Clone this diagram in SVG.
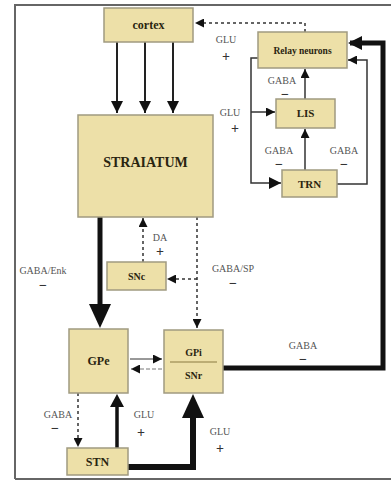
<svg xmlns="http://www.w3.org/2000/svg" width="391" height="482" viewBox="0 0 391 482">
<style>
.box{fill:#ede0a8;stroke:#a09a80;stroke-width:1.5}
.nt{font-family:"Liberation Serif",serif;font-weight:bold;fill:#2a2510;text-anchor:middle}
.lb{font-family:"Liberation Serif",serif;fill:#555;font-size:10px;text-anchor:middle}
.sg{font-family:"Liberation Serif",serif;fill:#333;font-size:14px;font-weight:bold;text-anchor:middle}
.thin{fill:none;stroke:#333;stroke-width:1.5}
.dash{fill:none;stroke:#333;stroke-width:1.5;stroke-dasharray:3,3}
</style>
<defs>
<marker id="ah" viewBox="0 0 10 10" refX="10" refY="5" markerWidth="9" markerHeight="9" markerUnits="userSpaceOnUse" orient="auto"><path d="M0,0L10,5L0,10z" fill="#111"/></marker>
<marker id="am" viewBox="0 0 10 10" refX="10" refY="5" markerWidth="14" markerHeight="12" markerUnits="userSpaceOnUse" orient="auto"><path d="M0,0L10,5L0,10z" fill="#111"/></marker>
</defs>
<rect x="0" y="0" width="391" height="482" fill="#fff"/>
<path d="M15,479V5H391" fill="none" stroke="#666" stroke-width="2"/>
<path d="M15,479H391" fill="none" stroke="#666" stroke-width="2"/>

<g id="connectors">
<line x1="117" y1="42" x2="117" y2="113" stroke="#222" stroke-width="2" marker-end="url(#am)"/>
<line x1="145" y1="42" x2="145" y2="113" stroke="#222" stroke-width="2" marker-end="url(#am)"/>
<line x1="173" y1="42" x2="173" y2="113" stroke="#222" stroke-width="2" marker-end="url(#am)"/>
<path d="M305,32V23H195" class="dash" marker-end="url(#ah)"/>
<path d="M258,58H251V183H281" class="thin" marker-end="url(#am)"/>
<path d="M251,112H275" class="thin" marker-end="url(#ah)"/>
<line x1="305" y1="99" x2="305" y2="69" class="thin" marker-end="url(#ah)"/>
<line x1="305" y1="170" x2="305" y2="129" class="thin" marker-end="url(#ah)"/>
<path d="M337,184H367V60H348" class="thin" marker-end="url(#ah)"/>
<path d="M223,368H383V43H350" fill="none" stroke="#111" stroke-width="5"/>
<path d="M348,43L362,36V50z" fill="#111"/>
<line x1="100" y1="217" x2="100" y2="306" stroke="#111" stroke-width="5"/>
<path d="M100,328L89,304H111z" fill="#111"/>
<path d="M197,217V328" class="dash" marker-end="url(#ah)"/>
<path d="M197,279H167" class="dash" marker-end="url(#ah)"/>
<path d="M143,262V218" class="dash" marker-end="url(#ah)"/>
<line x1="130" y1="359" x2="162" y2="359" stroke="#333" stroke-width="1" marker-end="url(#ah)"/>
<line x1="162" y1="369" x2="131" y2="369" stroke="#777" stroke-width="1" stroke-dasharray="4,2" marker-end="url(#ah)"/>
<path d="M78,393V447" class="dash" marker-end="url(#ah)"/>
<line x1="117" y1="448" x2="117" y2="405" stroke="#111" stroke-width="3.5"/>
<path d="M117,394L110,407H124z" fill="#111"/>
<path d="M128,467H193V415" fill="none" stroke="#111" stroke-width="6"/>
<path d="M193,394L182,418H204z" fill="#111"/>
</g>

<g id="cortex"><rect class="box" x="104" y="8" width="89" height="34"/><text class="nt" x="148.5" y="29" font-size="12">cortex</text></g>
<g id="relay"><rect class="box" x="258" y="32" width="89" height="36"/><text class="nt" x="302.5" y="54" font-size="9.5">Relay neurons</text></g>
<g id="lis"><rect class="box" x="276" y="99" width="59" height="29"/><text class="nt" x="305.5" y="117" font-size="11">LIS</text></g>
<g id="trn"><rect class="box" x="282" y="170" width="55" height="27"/><text class="nt" x="309.5" y="188" font-size="11">TRN</text></g>
<g id="striatum"><rect class="box" x="78" y="115" width="135" height="102"/><text class="nt" x="145.5" y="167" font-size="14">STRAIATUM</text></g>
<g id="snc"><rect class="box" x="107" y="262" width="59" height="28"/><text class="nt" x="136.5" y="280" font-size="10">SNc</text></g>
<g id="gpe"><rect class="box" x="69" y="329" width="59" height="64"/><text class="nt" x="98.5" y="365" font-size="12">GPe</text></g>
<g id="gpi"><rect class="box" x="164" y="330" width="59" height="63"/><line x1="170" y1="362" x2="217" y2="362" stroke="#8a7a40" stroke-width="1"/><text class="nt" x="193.5" y="356" font-size="10">GPi</text><text class="nt" x="193.5" y="379" font-size="10">SNr</text></g>
<g id="stn"><rect class="box" x="67" y="448" width="61" height="27"/><text class="nt" x="97.5" y="466" font-size="12">STN</text></g>

<g id="labels">
<text class="lb" x="226" y="43">GLU</text><text class="sg" x="226" y="61">+</text>
<text class="lb" x="230" y="116">GLU</text><text class="sg" x="235" y="133">+</text>
<text class="lb" x="282" y="84">GABA</text><text class="sg" x="285" y="99">−</text>
<text class="lb" x="279" y="154">GABA</text><text class="sg" x="279" y="169">−</text>
<text class="lb" x="344" y="154">GABA</text><text class="sg" x="344" y="169">−</text>
<text class="lb" x="160" y="241">DA</text><text class="sg" x="160" y="256">+</text>
<text class="lb" x="43" y="274">GABA/Enk</text><text class="sg" x="43" y="290">−</text>
<text class="lb" x="233" y="272">GABA/SP</text><text class="sg" x="233" y="288">−</text>
<text class="lb" x="303" y="349">GABA</text><text class="sg" x="303" y="364">−</text>
<text class="lb" x="58" y="418">GABA</text><text class="sg" x="55" y="433">−</text>
<text class="lb" x="144" y="418">GLU</text><text class="sg" x="141" y="437">+</text>
<text class="lb" x="220" y="435">GLU</text><text class="sg" x="220" y="453">+</text>
</g>
</svg>
